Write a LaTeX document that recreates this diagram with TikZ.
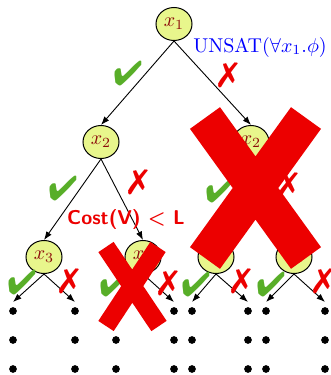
\documentclass[tikz,border=0pt]{standalone}
\usepackage{amsmath,amssymb}
\usepackage{pifont}
\usepackage{xcolor}
\usepackage{tikz}
\usetikzlibrary{arrows.meta,shapes.geometric}
\definecolor{varfill}{RGB}{232,246,140}
\definecolor{vartext}{RGB}{140,10,10}
\definecolor{tickgreen}{RGB}{88,174,40}
\definecolor{crossred}{RGB}{236,0,0}
\tikzset{
  var/.style={draw, ellipse, fill=varfill, text=vartext, minimum width=18pt, minimum height=16.5pt, inner sep=0pt, line width=0.5pt},
  arr/.style={-{Latex[length=1.5mm,width=1.1mm]}, line width=0.45pt},
  leafdot/.style={draw, circle, fill=black, minimum size=3.4pt, inner sep=0pt},
  yestick/.style={text=tickgreen, font=\LARGE, inner sep=0pt},
  nocross/.style={text=crossred, font=\LARGE, inner sep=0pt},
  bigx/.style={draw=crossred, line width=18.5pt},
  smallx/.style={draw=crossred, line width=9.2pt}
}

\begin{document}
\begin{tikzpicture}[x=0.5pt,y=-0.5pt]
\useasboundingbox (0,0) rectangle (331,375);
% variable nodes
\node[var] (x1) at (174,24) {$x_1$};
\node[var] (x2l) at (101,142) {$x_2$};
\node[var] (x2r) at (251,142) {$x_2$};
\node[var] (x3a) at (44,257) {$x_3$};
\node[var] (x3b) at (143,257) {$x_3$};
\node[var] (x3c) at (216,257) {$x_3$};
\node[var] (x3d) at (294,257) {$x_3$};

% leaf ends and dots
\foreach \c/\px in {a1/13,a2/75,b1/116,b2/174,c1/192,c2/248,d1/266,d2/325} {
  \coordinate (end\c) at (\px,302);
  \node[leafdot] at (\px,311) {};
  \node[leafdot] at (\px,340) {};
  \node[leafdot] at (\px,369) {};
}

\draw[arr] (x1.south) -- (x2l.north);
\draw[arr] (x1.south) -- (x2r.north);
\draw[arr] (x2l.south) -- (x3a.north);
\draw[arr] (x2l.south) -- (x3b.north);
\draw[arr] (x2r.south) -- (x3c.north);
\draw[arr] (x2r.south) -- (x3d.north);
\draw[arr] (x3a.south) -- (enda1);
\draw[arr] (x3a.south) -- (enda2);
\draw[arr] (x3b.south) -- (endb1);
\draw[arr] (x3b.south) -- (endb2);
\draw[arr] (x3c.south) -- (endc1);
\draw[arr] (x3c.south) -- (endc2);
\draw[arr] (x3d.south) -- (endd1);
\draw[arr] (x3d.south) -- (endd2);

% branch marks
\node[yestick] (t1) at (128,74) {\ding{52}};
\node[nocross] (c1) at (228,75) {\ding{55}};
\node[yestick] (t2l) at (63,189) {\ding{52}};
\node[nocross] (c2l) at (138,182) {\ding{55}};
\node[yestick] (t2r) at (220,191) {\ding{52}};
\node[nocross] (c2r) at (288,185) {\ding{55}};
\node[yestick] (t3a) at (22,283) {\ding{52}};
\node[nocross] (c3a) at (69,281) {\ding{55}};
\node[yestick] (t3b) at (114,285) {\ding{52}};
\node[nocross] (c3b) at (168,283) {\ding{55}};
\node[yestick] (t3c) at (196,285) {\ding{52}};
\node[nocross] (c3c) at (241,281) {\ding{55}};
\node[yestick] (t3d) at (271,285) {\ding{52}};
\node[nocross] (c3d) at (323,281) {\ding{55}};

\node[text=blue] (unsat) at (260,47) {UNSAT$(\forall x_1 . \phi)$};
\node[text=crossred, font=\sffamily\bfseries] (cost) at (126,219) {Cost(V) < L};

% pruned subtrees
\draw[smallx] (106,247) -- (159,326) (106,326) -- (158,247);
\draw[bigx] (205,118) -- (306,258) (205,258) -- (306,118);
\end{tikzpicture}
\end{document}
